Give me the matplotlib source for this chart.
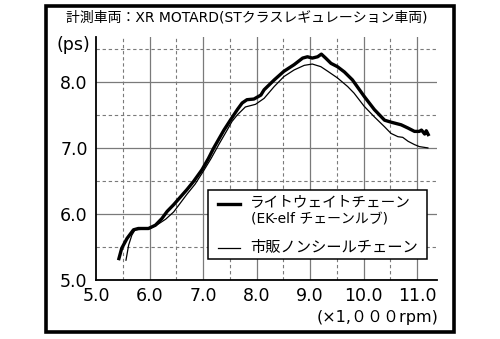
import matplotlib
matplotlib.use("Agg")
import matplotlib.pyplot as plt
from matplotlib.patches import Rectangle
from matplotlib.lines import Line2D

plt.rcParams['font.family'] = ['DejaVu Sans', 'Noto Sans CJK JP']

# power curves read from the dyno sheet (rpm x1000, ps)
light_rpm = [5.42, 5.48, 5.58, 5.70, 5.79, 5.98, 6.11, 6.23, 6.33, 6.45, 6.58, 6.70,
             6.82, 6.98, 7.10, 7.20, 7.39, 7.51, 7.64, 7.73, 7.82, 7.95, 8.08, 8.14,
             8.33, 8.51, 8.70, 8.86, 8.95, 9.04, 9.14, 9.21, 9.29, 9.39, 9.51, 9.64,
             9.79, 10.01, 10.20, 10.39, 10.51, 10.70, 10.83, 10.95, 11.04, 11.08,
             11.14, 11.17, 11.22]
light_ps = [5.30, 5.48, 5.63, 5.76, 5.78, 5.78, 5.83, 5.93, 6.04, 6.14, 6.26, 6.37,
            6.49, 6.67, 6.84, 7.00, 7.27, 7.42, 7.58, 7.68, 7.73, 7.74, 7.80, 7.88,
            8.03, 8.16, 8.26, 8.36, 8.38, 8.36, 8.38, 8.42, 8.36, 8.28, 8.23, 8.15,
            8.03, 7.78, 7.58, 7.42, 7.39, 7.35, 7.30, 7.25, 7.25, 7.27, 7.21, 7.26,
            7.18]

stock_rpm = [5.56, 5.61, 5.67, 5.73, 5.89, 6.01, 6.15, 6.30, 6.45, 6.58, 6.70, 6.85,
             7.00, 7.15, 7.30, 7.45, 7.54, 7.64, 7.79, 7.98, 8.14, 8.33, 8.51, 8.70,
             8.89, 9.04, 9.20, 9.33, 9.51, 9.70, 9.82, 10.01, 10.20, 10.39, 10.51,
             10.64, 10.73, 10.83, 10.95, 11.04, 11.20]
stock_ps = [5.30, 5.53, 5.68, 5.76, 5.77, 5.78, 5.84, 5.92, 6.03, 6.17, 6.30, 6.45,
            6.64, 6.84, 7.06, 7.27, 7.40, 7.50, 7.62, 7.66, 7.75, 7.93, 8.08, 8.18,
            8.25, 8.27, 8.23, 8.16, 8.06, 7.93, 7.83, 7.63, 7.47, 7.32, 7.22, 7.17,
            7.16, 7.10, 7.05, 7.02, 7.00]

x_ticks = [5.0, 6.0, 7.0, 8.0, 9.0, 10.0, 11.0]
y_ticks = [5.0, 6.0, 7.0, 8.0]
x_minor = [5.5, 6.5, 7.5, 8.5, 9.5, 10.5]
y_minor = [5.5, 6.5, 7.5, 8.5]

title = '計測車両：XR MOTARD(STクラスレギュレーション車両)'
label_light = 'ライトウェイトチェーン'
label_light_sub = '(EK-elf チェーンルブ)'
label_stock = '市販ノンシールチェーン'

fig = plt.figure(figsize=(5.0, 3.39), dpi=100)
ax = fig.add_axes([0.192, 0.174, 0.682, 0.717])
ax.set_xlim(5.0, 11.37)
ax.set_ylim(5.0, 8.68)

# grid: solid at whole numbers, dashed at halves
for x in x_ticks[1:]:
    ax.axvline(x, color='#7a7a7a', lw=0.9, zorder=1)
for x in x_minor:
    ax.axvline(x, color='#7a7a7a', lw=0.8, ls=(0, (3, 2.5)), zorder=1)
for y in y_ticks[1:]:
    ax.axhline(y, color='#7a7a7a', lw=0.9, zorder=1)
for y in y_minor:
    ax.axhline(y, color='#7a7a7a', lw=0.8, ls=(0, (3, 2.5)), zorder=1)

ax.plot(stock_rpm, stock_ps, color='black', lw=0.9, zorder=3)
ax.plot(light_rpm, light_ps, color='black', lw=2.4, zorder=4,
        solid_capstyle='butt')

for s in ['top', 'right']:
    ax.spines[s].set_visible(False)
for s in ['left', 'bottom']:
    ax.spines[s].set_linewidth(1.3)
ax.set_xticks(x_ticks)
ax.set_yticks(y_ticks)
ax.set_xticklabels([f'{v:.1f}' for v in x_ticks])
ax.set_yticklabels([f'{v:.1f}' for v in y_ticks])
ax.tick_params(length=0, labelsize=12.5)
ax.tick_params(axis='x', pad=5)
ax.tick_params(axis='y', pad=6)

ax.text(-0.018, 0.967, '(ps)', transform=ax.transAxes, ha='right', va='center',
        fontsize=12.5)
ax.text(1.005, -0.155, '(×1,０００rpm)', transform=ax.transAxes, ha='right',
        va='center', fontsize=11.5)

# legend box drawn by hand so the sub caption can be smaller
ax.add_patch(Rectangle((0.328, 0.086), 0.643, 0.284, transform=ax.transAxes,
                       facecolor='white', edgecolor='black', lw=1.1, zorder=5))
ax.add_line(Line2D([0.358, 0.422], [0.313, 0.313], transform=ax.transAxes,
                   color='black', lw=2.4, zorder=6))
ax.add_line(Line2D([0.358, 0.422], [0.132, 0.132], transform=ax.transAxes,
                   color='black', lw=0.9, zorder=6))
jp = ['Noto Sans CJK JP', 'DejaVu Sans']
ax.text(0.452, 0.321, label_light, transform=ax.transAxes, ha='left',
        va='center', fontsize=10.5, family=jp, zorder=7)
ax.text(0.455, 0.247, label_light_sub, transform=ax.transAxes, ha='left',
        va='center', fontsize=10, zorder=7)
ax.text(0.452, 0.132, label_stock, transform=ax.transAxes, ha='left',
        va='center', fontsize=11, family=jp, zorder=7)

fig.text(0.494, 0.948, title, ha='center', va='center', fontsize=10)

# outer frame
fig.patches.append(Rectangle((0.092, 0.022), 0.816, 0.96, transform=fig.transFigure,
                             fill=False, edgecolor='black', lw=2.6))

fig.savefig('out.png', dpi=100)
